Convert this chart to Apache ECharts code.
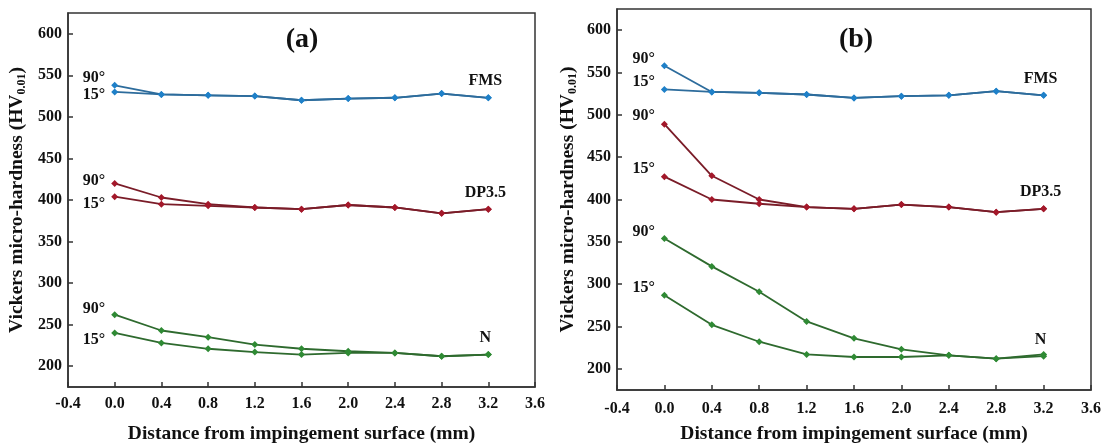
<!DOCTYPE html>
<html>
<head>
<meta charset="utf-8">
<script src="https://cdn.jsdelivr.net/npm/echarts@6/dist/echarts.min.js"></script>
<style>
  html, body { margin: 0; padding: 0; background: #fff; }
  #chart { width: 1104px; height: 445px; }
</style>
</head>
<body>
<div id="chart"></div>
<script>
// distance from impingement surface (mm)
const distance = [0, 0.4, 0.8, 1.2, 1.6, 2.0, 2.4, 2.8, 3.2];
const yTicks = [200, 250, 300, 350, 400, 450, 500, 550, 600];

// panel (a)
const fmsA90 = [538, 527, 526, 525, 520, 522, 523, 528, 523];
const fmsA15 = [530, 527, 526, 525, 520, 522, 523, 528, 523];
const dpA90 = [420, 403, 395, 391, 389, 394, 391, 384, 389];
const dpA15 = [404, 395, 393, 391, 389, 394, 391, 384, 389];
const nA90 = [262, 243, 235, 226, 221, 218, 216, 212, 214];
const nA15 = [240, 228, 221, 217, 214, 216, 216, 212, 214];

// panel (b)
const fmsB90 = [558, 527, 526, 524, 520, 522, 523, 528, 523];
const fmsB15 = [530, 527, 526, 524, 520, 522, 523, 528, 523];
const dpB90 = [489, 428, 400, 391, 389, 394, 391, 385, 389];
const dpB15 = [427, 400, 395, 391, 389, 394, 391, 385, 389];
const nB90 = [354, 321, 291, 256, 236, 223, 216, 212, 217];
const nB15 = [287, 252, 232, 217, 214, 214, 216, 212, 215];

const FONT = 'Liberation Serif';
const colors = {
  FMS: { line: '#2d6c9c', mark: '#1f80c8' },
  'DP3.5': { line: '#7a1c28', mark: '#a3182a' },
  N: { line: '#2e6a2e', mark: '#2f8a34' },
};

const textStyle = { fontFamily: FONT, fontWeight: 'bold', fontSize: 16, color: '#111' };

function makeSeries(values, mat, panel, angle, angleOffset, showName) {
  const data = distance.map((d, i) => {
    const item = { value: [d, values[i]] };
    if (i === 0) {
      item.label = Object.assign({ show: true, formatter: angle, position: 'left', distance: 6, offset: angleOffset }, textStyle);
    }
    if (showName && i === distance.length - 1) {
      item.label = Object.assign({ show: true, formatter: mat, position: 'top', distance: 5, offset: [-3, 0] }, textStyle);
    }
    return item;
  });
  return {
    type: 'line',
    xAxisIndex: panel,
    yAxisIndex: panel,
    data,
    symbol: 'diamond',
    symbolSize: 7,
    lineStyle: { color: colors[mat].line, width: 1.8 },
    itemStyle: { color: colors[mat].mark },
    z: mat === 'FMS' ? 3 : 2,
    animation: false,
  };
}

function xAxisFor(i) {
  return {
    gridIndex: i,
    type: 'value',
    min: -0.4,
    max: 3.6,
    interval: 0.4,
    name: 'Distance from impingement surface (mm)',
    nameLocation: 'middle',
    nameGap: i === 0 ? 37 : 34,
    nameTextStyle: { fontFamily: FONT, fontWeight: 'bold', fontSize: 19.5, color: '#111' },
    axisLine: { show: true, onZero: false, lineStyle: { color: '#333', width: 1.5 } },
    axisTick: { show: true, inside: true, length: 5, lineStyle: { color: '#333', width: 1.5 } },
    axisLabel: {
      fontFamily: FONT, fontWeight: 'bold', fontSize: 16, color: '#111', margin: i === 0 ? 9 : 11,
      formatter: v => v.toFixed(1),
    },
    splitLine: { show: false },
  };
}

function yAxisFor(i) {
  return {
    gridIndex: i,
    type: 'value',
    min: 175,
    max: 625,
    name: '{t|Vickers micro-hardness (HV}{s|0.01}{t|)}',
    nameLocation: 'middle',
    nameGap: i === 0 ? 40 : 38,
    nameTextStyle: {
      rich: {
        t: { fontFamily: FONT, fontWeight: 'bold', fontSize: 19.5, color: '#111', lineHeight: 22 },
        s: { fontFamily: FONT, fontWeight: 'bold', fontSize: 12, color: '#111', verticalAlign: 'bottom', lineHeight: 14 },
      },
    },
    axisLine: { show: true, onZero: false, lineStyle: { color: '#333', width: 1.5 } },
    axisTick: { show: true, inside: true, length: 5, customValues: yTicks, lineStyle: { color: '#333', width: 1.5 } },
    axisLabel: { fontFamily: FONT, fontWeight: 'bold', fontSize: 16, color: '#111', margin: 6, customValues: yTicks },
    splitLine: { show: false },
  };
}

const chart = echarts.init(document.getElementById('chart'));
chart.setOption({
  backgroundColor: '#fff',
  animation: false,
  grid: [
    { left: 68, top: 13, width: 467, height: 374, outerBoundsMode: 'none', show: true, borderColor: '#333', borderWidth: 1.5 },
    { left: 617, top: 9, width: 474, height: 381, outerBoundsMode: 'none', show: true, borderColor: '#333', borderWidth: 1.5 },
  ],
  xAxis: [xAxisFor(0), xAxisFor(1)],
  yAxis: [yAxisFor(0), yAxisFor(1)],
  graphic: [
    { type: 'text', x: 302, y: 40, style: { text: '(a)', font: 'bold 28px "Liberation Serif"', fill: '#111', textAlign: 'center', textVerticalAlign: 'middle' } },
    { type: 'text', x: 856, y: 40, style: { text: '(b)', font: 'bold 28px "Liberation Serif"', fill: '#111', textAlign: 'center', textVerticalAlign: 'middle' } },
  ],
  series: [
    makeSeries(fmsA90, 'FMS', 0, '90°', [0, -7], false),
    makeSeries(fmsA15, 'FMS', 0, '15°', [0, 3], true),
    makeSeries(dpA90, 'DP3.5', 0, '90°', [0, -3], false),
    makeSeries(dpA15, 'DP3.5', 0, '15°', [0, 7], true),
    makeSeries(nA90, 'N', 0, '90°', [0, -6], false),
    makeSeries(nA15, 'N', 0, '15°', [0, 7], true),
    makeSeries(fmsB90, 'FMS', 1, '90°', [0, -7], false),
    makeSeries(fmsB15, 'FMS', 1, '15°', [0, -8], true),
    makeSeries(dpB90, 'DP3.5', 1, '90°', [0, -8], false),
    makeSeries(dpB15, 'DP3.5', 1, '15°', [0, -8], true),
    makeSeries(nB90, 'N', 1, '90°', [0, -7], false),
    makeSeries(nB15, 'N', 1, '15°', [0, -7], true),
  ],
});
</script>
</body>
</html>
